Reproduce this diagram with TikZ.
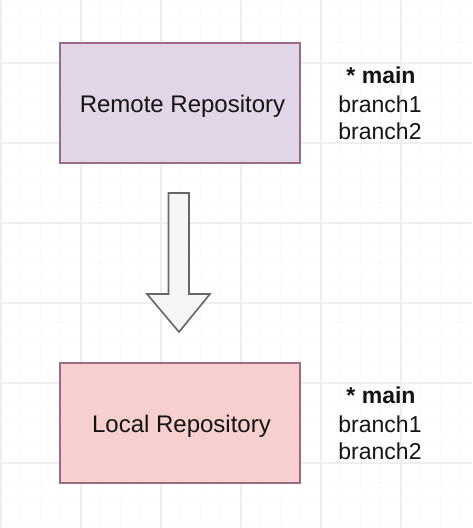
\documentclass[tikz,border=0pt]{standalone}
\usepackage{fontspec}
\setmainfont{Liberation Sans}
\definecolor{remotefill}{HTML}{E1D5E7}
\definecolor{localfill}{HTML}{F6CFCE}
\definecolor{boxline}{HTML}{9A6D84}
\definecolor{arrowfill}{HTML}{F5F5F5}
\definecolor{arrowline}{HTML}{666666}
\definecolor{gridmajor}{HTML}{EEEEEE}
\definecolor{gridminor}{HTML}{F2F2F2}
\tikzset{
  repobox/.style={draw=boxline, line width=1.6pt, minimum width=240pt, minimum height=120pt, inner sep=0pt, font=\fontsize{24}{28}\selectfont, text=black!92},
  branchtxt/.style={anchor=base, inner sep=0pt, font=\fontsize{23}{28}\selectfont, text=black!92},
  blockarrow/.style={draw=arrowline, fill=arrowfill, line width=1.6pt, line join=miter},
}
\begin{document}
\begin{tikzpicture}[x=1pt,y=-1pt]
\useasboundingbox (0,0) rectangle (472,528);
\fill[white] (0,0) rectangle (472,528);
% minor grid
\foreach \x in {20,40,60,100,120,140,180,200,220,260,280,300,340,360,380,420,440,460}
  \draw[gridminor, line width=0.8pt, dotted] (\x,0) -- (\x,528);
\foreach \y in {2.7,22.7,42.7,82.7,102.7,122.7,162.7,182.7,202.7,242.7,262.7,282.7,322.7,342.7,362.7,402.7,422.7,442.7,482.7,502.7,522.7}
  \draw[gridminor, line width=0.8pt, dotted] (0,\y) -- (472,\y);
% major grid
\foreach \x in {0.7,80.7,160.7,240.7,320.7,400.7}
  \draw[gridmajor, line width=1.6pt] (\x,0) -- (\x,528);
\foreach \y in {62.7,142.7,222.7,302.7,382.7,462.7}
  \draw[gridmajor, line width=1.6pt] (0,\y) -- (472,\y);

\node[repobox, fill=remotefill] (remote) at (180,103) {};
\node[repobox, fill=localfill] (local) at (180,423) {};
\node[anchor=base, inner sep=0pt, font=\fontsize{24}{28}\selectfont, text=black!92] (remotetxt) at (182.5,112) {Remote Repository};
\node[anchor=base, inner sep=0pt, font=\fontsize{24}{28}\selectfont, text=black!92] (localtxt) at (181.5,432) {Local Repository};

\node[branchtxt] (rmain) at (381,83.5) {\textbf{* main}};
\node[branchtxt] (rb1) at (380,112.5) {branch1};
\node[branchtxt] (rb2) at (380,139.5) {branch2};

\node[branchtxt] (lmain) at (381,403.5) {\textbf{* main}};
\node[branchtxt] (lb1) at (380,432.5) {branch1};
\node[branchtxt] (lb2) at (380,459.5) {branch2};

% block arrow from remote to local
\draw[blockarrow] (168.5,193) -- (189,193) -- (189,294) -- (210,294) -- (179,332)
  -- (147,294) -- (168.5,294) -- cycle;
\end{tikzpicture}
\end{document}
